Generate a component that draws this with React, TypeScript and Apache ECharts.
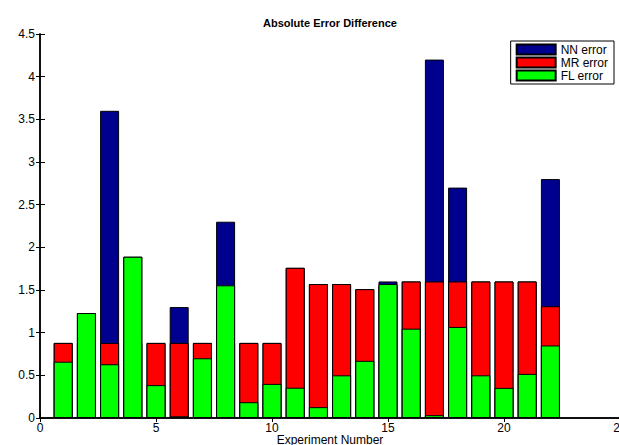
import React, { useEffect, useRef } from "react";
import * as echarts from "echarts";

const experiments = [1, 2, 3, 4, 5, 6, 7, 8, 9, 10, 11, 12, 13, 14, 15, 16, 17, 18, 19, 20, 21, 22];
const nnError = [0.88, 1.23, 3.6, 1.89, 0.88, 1.3, 0.88, 2.3, 0.88, 0.88, 1.76, 1.57, 1.57, 1.51, 1.6, 1.6, 4.2, 2.7, 1.6, 1.6, 1.6, 2.8];
const mrError = [0.88, 0.88, 0.88, 0.88, 0.88, 0.88, 0.88, 0.88, 0.88, 0.88, 1.76, 1.57, 1.57, 1.51, 1.55, 1.6, 1.6, 1.6, 1.6, 1.6, 1.6, 1.31];
const flError = [0.66, 1.23, 0.63, 1.89, 0.385, 0.02, 0.7, 1.555, 0.185, 0.4, 0.355, 0.127, 0.5, 0.67, 1.57, 1.047, 0.033, 1.067, 0.5, 0.353, 0.517, 0.85];
const seriesNames = ["NN error", "MR error", "FL error"];
const seriesColors = ["#00008F", "#FF0000", "#00FF00"];
const xTicks = { min: 0, max: 25, interval: 5 };
const yTicks = { min: 0, max: 4.5, interval: 0.5 };

const FONT = '"Liberation Sans", Arial, Helvetica, sans-serif';

export default function App() {
  const ref = useRef<HTMLDivElement>(null);
  useEffect(() => {
    if (!ref.current) return;
    const chart = echarts.init(ref.current, null, { renderer: "svg" });
    const values = [nnError, mrError, flError];
    const axisLineStyle = { color: "#000", width: 1.5 };
    const option: any = {
      animation: false,
      backgroundColor: "#fff",
      textStyle: { fontFamily: FONT },
      title: {
        text: "Absolute Error Difference",
        left: 330,
        top: 17,
        textAlign: "center",
        padding: 0,
        textStyle: { fontSize: 11, fontWeight: "bold", color: "#000", fontFamily: FONT },
      },
      legend: {
        orient: "vertical",
        right: 5,
        top: 41,
        itemWidth: 39,
        itemHeight: 10,
        itemGap: 0,
        padding: [2, 6, 2, 5],
        borderColor: "#000",
        borderWidth: 1,
        backgroundColor: "#fff",
        icon: "rect",
        selectedMode: false,
        data: seriesNames,
        textStyle: { fontSize: 12, color: "#000", lineHeight: 13, fontFamily: FONT },
      },
      grid: { left: 40, top: 34, width: 580, height: 384, outerBoundsMode: "none", containLabel: false },
      xAxis: [
        {
          type: "value",
          position: "bottom",
          min: xTicks.min,
          max: xTicks.max,
          interval: xTicks.interval,
          name: "Experiment Number",
          nameLocation: "middle",
          nameGap: 16,
          nameMoveOverlap: false,
          nameTextStyle: { fontSize: 12, color: "#000", fontFamily: FONT },
          axisLine: { show: true, lineStyle: axisLineStyle },
          axisTick: { show: true, inside: true, length: 5, lineStyle: { color: "#000", width: 1 } },
          axisLabel: { fontSize: 12, color: "#000", margin: 4, fontFamily: FONT },
          splitLine: { show: false },
        },
        {
          type: "value",
          position: "top",
          min: xTicks.min,
          max: xTicks.max,
          interval: xTicks.interval,
          axisLine: { show: true, lineStyle: axisLineStyle },
          axisTick: { show: true, inside: true, length: 4, lineStyle: { color: "#000", width: 1 } },
          axisLabel: { show: false },
          splitLine: { show: false },
        },
      ],
      yAxis: [
        {
          type: "value",
          position: "left",
          min: yTicks.min,
          max: yTicks.max,
          interval: yTicks.interval,
          axisLine: { show: true, lineStyle: axisLineStyle },
          axisTick: { show: true, inside: true, length: 5, lineStyle: { color: "#000", width: 1 } },
          axisLabel: { fontSize: 12, color: "#000", margin: 5, fontFamily: FONT },
          splitLine: { show: false },
        },
        {
          type: "value",
          position: "right",
          min: yTicks.min,
          max: yTicks.max,
          interval: yTicks.interval,
          axisLine: { show: true, lineStyle: axisLineStyle },
          axisTick: { show: true, inside: true, length: 4, lineStyle: { color: "#000", width: 1 } },
          axisLabel: { show: false },
          splitLine: { show: false },
        },
      ],
      series: seriesNames.map((name, s) => ({
        name,
        type: "bar",
        xAxisIndex: 0,
        yAxisIndex: 0,
        barWidth: 19,
        barGap: "-100%",
        itemStyle: { color: seriesColors[s], borderColor: "#000", borderWidth: 1 },
        emphasis: { disabled: true },
        data: experiments.map((x, i) => [x, values[s][i]]),
      })),
    };
    chart.setOption(option);
    return () => chart.dispose();
  }, []);
  return (
    <div
      ref={ref}
      style={{ position: "fixed", left: 0, top: 0, width: 619, height: 445 }}
    />
  );
}
